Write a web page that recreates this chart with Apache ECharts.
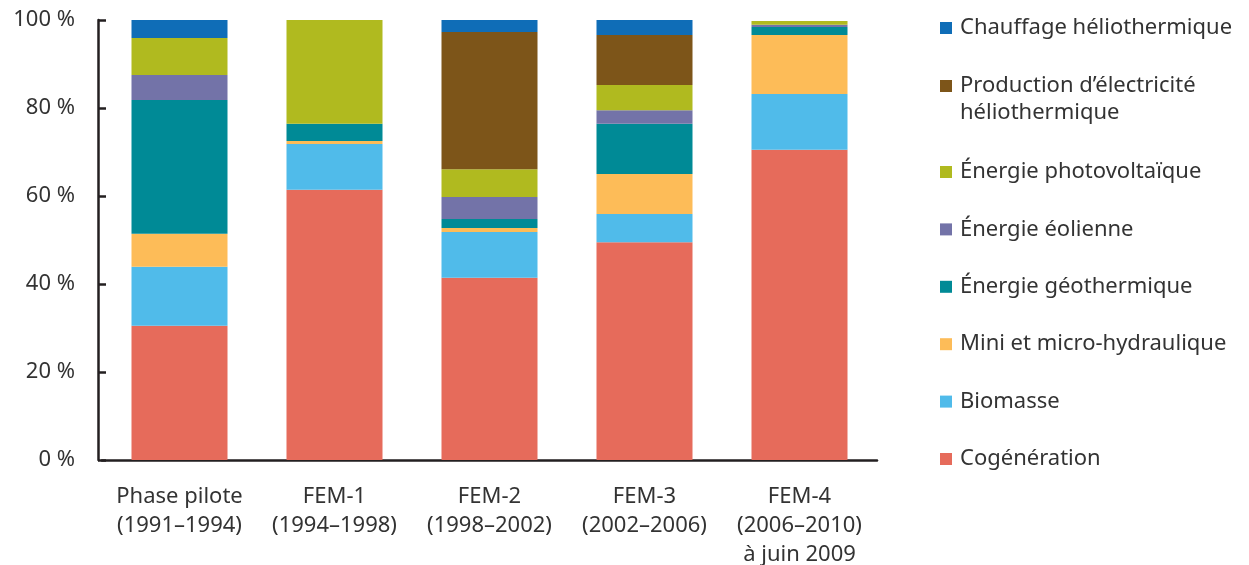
<!DOCTYPE html>
<html>
<head>
<meta charset="utf-8">
<script src="https://cdn.jsdelivr.net/npm/echarts@6/dist/echarts.min.js"></script>
<style>
  html, body { margin: 0; padding: 0; background: #fff; }
  #chart { width: 1249px; height: 565px; }
</style>
</head>
<body>
<div id="chart"></div>
<script>
// catégories (axe x)
const categories = [
  'Phase pilote\n(1991–1994)',
  'FEM-1\n(1994–1998)',
  'FEM-2\n(1998–2002)',
  'FEM-3\n(2002–2006)',
  'FEM-4\n(2006–2010)\nà juin 2009'
]

// parts en % (de bas en haut)
const cogeneration = [30.5, 61.4, 41.4, 49.5, 70.5]
const biomasse = [13.4, 10.4, 10.4, 6.4, 12.7]
const miniHydro = [7.5, 0.7, 0.9, 9.1, 13.4]
const geothermie = [30.4, 3.9, 2.1, 11.4, 1.8]
const eolien = [5.7, 0, 5.0, 3.1, 0.5]
const photovoltaique = [8.4, 23.6, 6.3, 5.7, 0.9]
const electriciteSolaire = [0, 0, 31.2, 11.4, 0]
const chauffageSolaire = [4.1, 0, 2.7, 3.4, 0]

const yTicks = [0, 20, 40, 60, 80, 100]

const FONT = '"Noto Sans", sans-serif'
const TEXT_COLOR = '#333'
const FONT_SIZE = 22

const seriesDefs = [
  { name: 'Cogénération', data: cogeneration, color: '#e66b5b' },
  { name: 'Biomasse', data: biomasse, color: '#50bbea' },
  { name: 'Mini et micro-hydraulique', data: miniHydro, color: '#fdbc58' },
  { name: 'Énergie géothermique', data: geothermie, color: '#008a96' },
  { name: 'Énergie éolienne', data: eolien, color: '#7373a8' },
  { name: 'Énergie photovoltaïque', data: photovoltaique, color: '#b0ba1f' },
  { name: 'Production d’électricité héliothermique', data: electriciteSolaire, color: '#7d5519' },
  { name: 'Chauffage héliothermique', data: chauffageSolaire, color: '#0f6db7' },
]

const chart = echarts.init(document.getElementById('chart'))

const legendBase = {
  orient: 'vertical',
  left: 935,
  icon: 'rect',
  itemWidth: 12,
  itemHeight: 12,
  selectedMode: false,
  textStyle: {
    fontFamily: FONT,
    fontSize: FONT_SIZE,
    lineHeight: 24,
    color: TEXT_COLOR,
    padding: [0, 0, 0, 3],
  },
}

const option = {
  animation: false,
  backgroundColor: '#fff',
  grid: {
    left: 102,
    width: 775,
    top: 20,
    bottom: 105,
    outerBoundsMode: 'none',
  },
  legend: [
    Object.assign({}, legendBase, {
      top: 11,
      itemGap: 34,
      data: ['Chauffage héliothermique', 'Production d’électricité héliothermique'],
      formatter: name => name === 'Production d’électricité héliothermique' ? 'Production d’électricité' : name,
    }),
    Object.assign({}, legendBase, {
      top: 155,
      itemGap: 33.4,
      data: ['Énergie photovoltaïque', 'Énergie éolienne', 'Énergie géothermique',
        'Mini et micro-hydraulique', 'Biomasse', 'Cogénération'],
    }),
  ],
  graphic: [
    { // deuxième ligne de la légende
      type: 'text',
      left: 960,
      top: 102,
      style: {
        text: 'héliothermique',
        font: FONT_SIZE + 'px ' + FONT,
        fill: TEXT_COLOR,
      },
    },
  ],
  xAxis: {
    type: 'category',
    data: categories,
    axisLine: { lineStyle: { color: '#231f20', width: 2.5 } },
    axisTick: { show: false },
    axisLabel: {
      interval: 0,
      margin: 22,
      fontFamily: FONT,
      fontSize: FONT_SIZE,
      lineHeight: 29,
      color: TEXT_COLOR,
    },
  },
  yAxis: {
    type: 'value',
    min: yTicks[0],
    max: yTicks[yTicks.length - 1],
    interval: 20,
    offset: 4,
    axisLine: { show: true, lineStyle: { color: '#231f20', width: 2.5 } },
    axisTick: { show: true, inside: true, length: 8, lineStyle: { color: '#231f20', width: 2.5 } },
    splitLine: { show: false },
    axisLabel: {
      margin: 23,
      formatter: '{value} %',
      fontFamily: FONT,
      fontSize: FONT_SIZE,
      color: TEXT_COLOR,
    },
  },
  series: seriesDefs.map(s => ({
    name: s.name,
    type: 'bar',
    stack: 'total',
    barWidth: 96,
    data: s.data,
    itemStyle: { color: s.color },
  })),
}

chart.setOption(option)
</script>
</body>
</html>
